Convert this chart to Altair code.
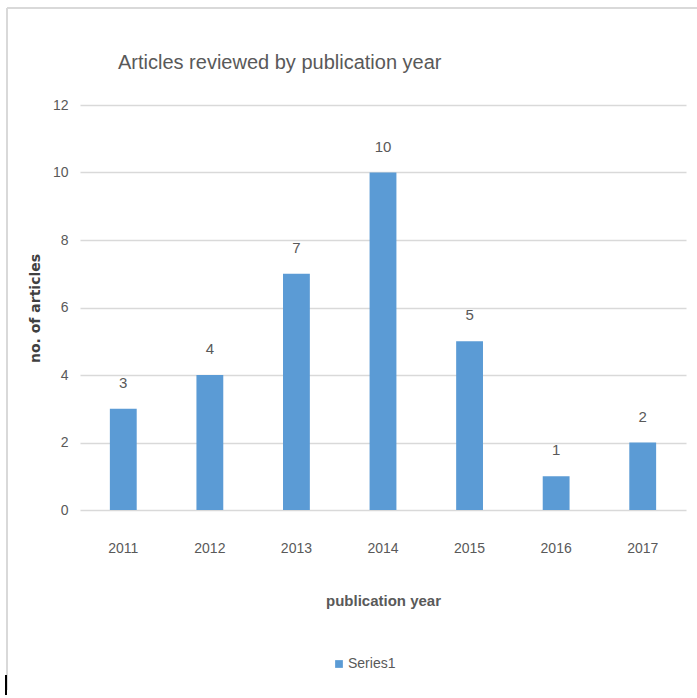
import altair as alt
import pandas as pd

years = ["2011", "2012", "2013", "2014", "2015", "2016", "2017"]
counts = [3, 4, 7, 10, 5, 1, 2]
series = ["Series1"] * len(years)

df = pd.DataFrame({"year": years, "count": counts, "series": series})

FONT = "Liberation Sans"
GREY = "#595959"

base = alt.Chart(df)

bars = base.mark_bar(color="#5b9bd5").encode(
    x=alt.X("year:N", sort=years,
            scale=alt.Scale(paddingInner=0.69, paddingOuter=0.345),
            axis=alt.Axis(title="publication year", labelAngle=0, domain=False, ticks=False,
                          labelPadding=31, labelFontSize=14, labelColor=GREY, labelFont=FONT,
                          titleFont=FONT, titleFontSize=15, titleFontWeight="bold", titleColor=GREY,
                          titleY=90, titleBaseline="middle", grid=False)),
    y=alt.Y("count:Q", scale=alt.Scale(domain=[0, 12]),
            axis=alt.Axis(title="no. of articles", values=[0, 2, 4, 6, 8, 10, 12], domain=False,
                          ticks=False, labelPadding=12, labelFontSize=14, labelColor=GREY,
                          labelFont=FONT, gridColor="#d9d9d9", gridWidth=1.5,
                          titleFont="DejaVu Sans", titleFontSize=14, titleFontWeight="bold",
                          titleColor="#404040", titleX=-45, titleY=203, titleAngle=270,
                          titleBaseline="middle")),
    fill=alt.Fill("series:N", scale=alt.Scale(range=["#5b9bd5"]),
                  legend=alt.Legend(title=None, orient="none", legendX=252, legendY=552,
                                    symbolType="square", symbolSize=60, labelFont=FONT,
                                    labelFontSize=14, labelColor=GREY, symbolStrokeWidth=0,
                                    labelOffset=2)),
)

labels = base.mark_text(dy=-18, baseline="bottom", font=FONT, fontSize=15, color=GREY).encode(
    x=alt.X("year:N", sort=years),
    y="count:Q",
    text="count:Q",
)

top_border = alt.Chart(df).mark_rule(color="#d9d9d9", strokeWidth=2).encode(
    x=alt.value(-73), x2=alt.value(620), y=alt.value(-97))
left_border = alt.Chart(df).mark_rule(color="#d9d9d9", strokeWidth=2).encode(
    x=alt.value(-73), y=alt.value(-97), y2=alt.value(585))
black_mark = alt.Chart(df).mark_rule(color="#000000", strokeWidth=2).encode(
    x=alt.value(-74), y=alt.value(570), y2=alt.value(590))

chart = alt.layer(top_border, left_border, black_mark, bars, labels).properties(
    width=606,
    height=405,
    background="white",
    title=alt.TitleParams("Articles reviewed by publication year", anchor="start", dx=113,
                          dy=98, offset=32, font=FONT, fontSize=20, fontWeight="normal",
                          color=GREY),
    autosize=alt.AutoSizeParams(type="none"),
    padding={"left": 80, "top": 105, "right": 11, "bottom": 188},
).configure_view(stroke=None)

chart.save("out.html", embed_options={"renderer": "svg", "actions": False})
